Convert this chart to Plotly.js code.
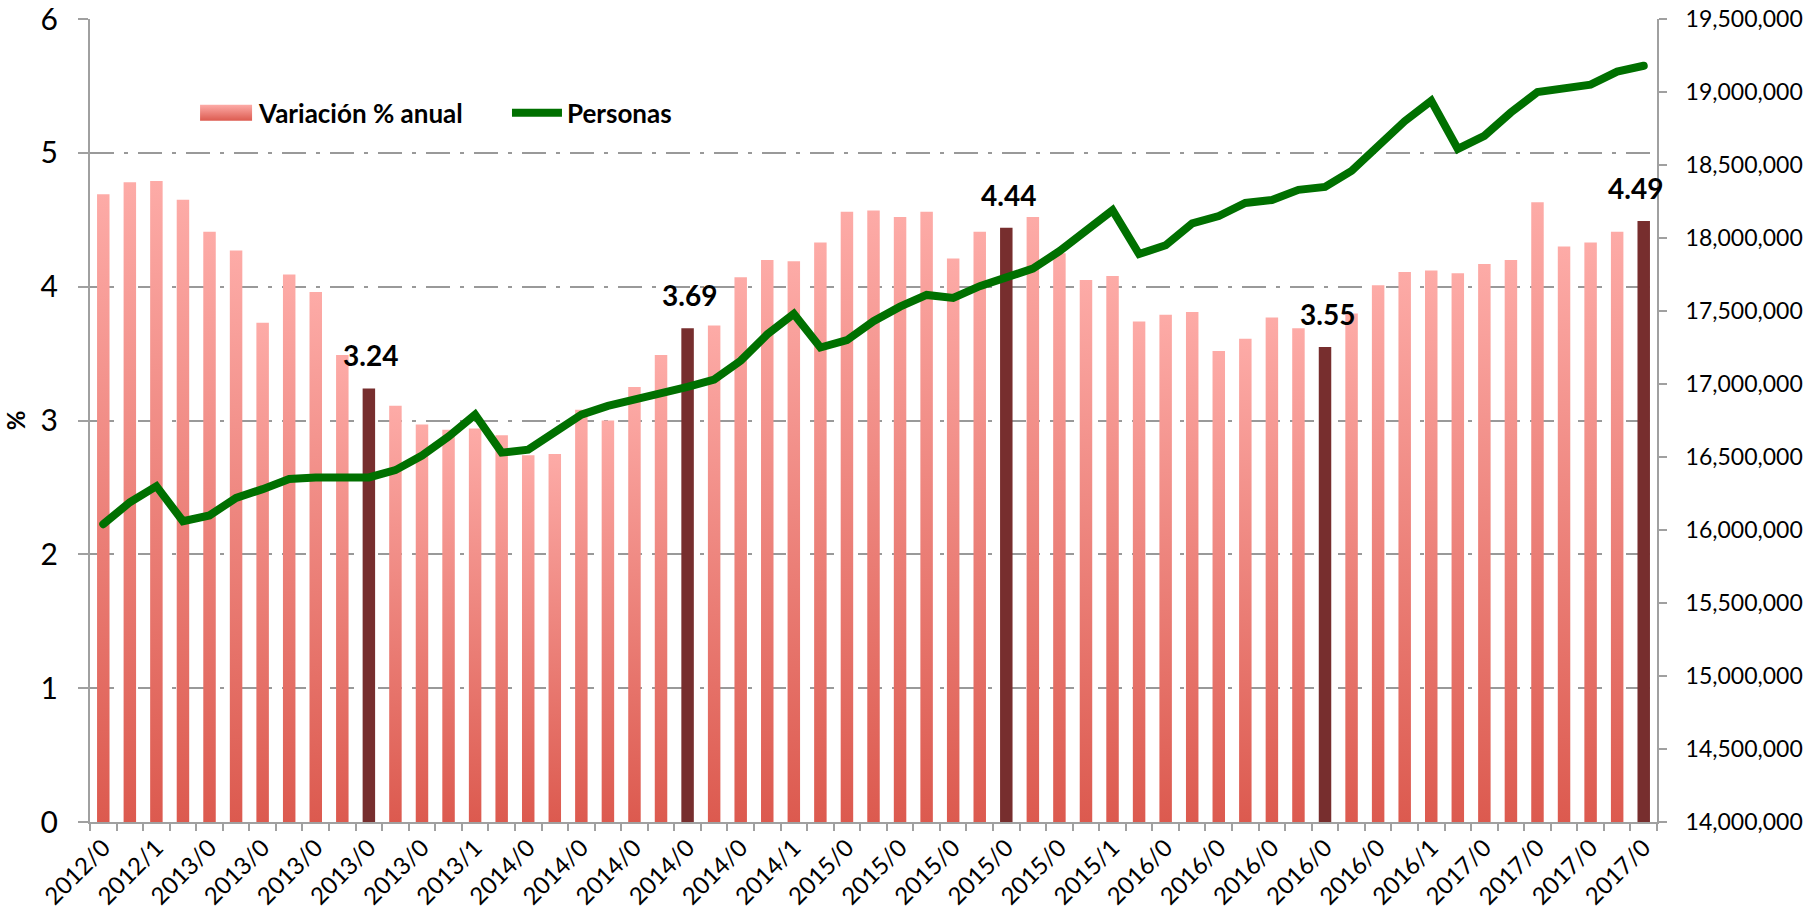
<!DOCTYPE html>
<html>
<head>
<meta charset="utf-8">
<script src="https://cdn.plot.ly/plotly-3.0.1.min.js"></script>
<style>
  body { margin: 0; background: #fff; }
  #chart { width: 1808px; height: 917px; }
</style>
</head>
<body>
<div id="chart"></div>
<script>
// meses (las etiquetas del eje aparecen recortadas a 6 caracteres)
var meses = [
  "2012/09", "2012/10", "2012/11", "2012/12",
  "2013/01", "2013/02", "2013/03", "2013/04", "2013/05", "2013/06",
  "2013/07", "2013/08", "2013/09", "2013/10", "2013/11", "2013/12",
  "2014/01", "2014/02", "2014/03", "2014/04", "2014/05", "2014/06",
  "2014/07", "2014/08", "2014/09", "2014/10", "2014/11", "2014/12",
  "2015/01", "2015/02", "2015/03", "2015/04", "2015/05", "2015/06",
  "2015/07", "2015/08", "2015/09", "2015/10", "2015/11", "2015/12",
  "2016/01", "2016/02", "2016/03", "2016/04", "2016/05", "2016/06",
  "2016/07", "2016/08", "2016/09", "2016/10", "2016/11", "2016/12",
  "2017/01", "2017/02", "2017/03", "2017/04", "2017/05", "2017/06",
  "2017/07"
];

// etiquetas visibles, una cada dos meses
var etiquetas = [
  "2012/0", "2012/1", "2013/0", "2013/0", "2013/0", "2013/0", "2013/0",
  "2013/1", "2014/0", "2014/0", "2014/0", "2014/0", "2014/0", "2014/1",
  "2015/0", "2015/0", "2015/0", "2015/0", "2015/0", "2015/1", "2016/0",
  "2016/0", "2016/0", "2016/0", "2016/0", "2016/1", "2017/0", "2017/0",
  "2017/0", "2017/0"
];

var variacion = [
  4.69, 4.78, 4.79, 4.65, 4.41, 4.27, 3.73, 4.09, 3.96, 3.49,
  3.24, 3.11, 2.97, 2.93, 2.94, 2.89, 2.74, 2.75, 3.08, 3.00,
  3.25, 3.49, 3.69, 3.71, 4.07, 4.20, 4.19, 4.33, 4.56, 4.57,
  4.52, 4.56, 4.21, 4.41, 4.44, 4.52, 4.25, 4.05, 4.08, 3.74,
  3.79, 3.81, 3.52, 3.61, 3.77, 3.69, 3.55, 3.80, 4.01, 4.11,
  4.12, 4.10, 4.17, 4.20, 4.63, 4.30, 4.33, 4.41, 4.49
];

var personas = [
  16040000, 16190000, 16300000, 16060000, 16100000, 16220000, 16280000, 16350000, 16360000, 16360000,
  16360000, 16410000, 16510000, 16640000, 16790000, 16530000, 16550000, 16670000, 16790000, 16850000,
  16890000, 16940000, 16980000, 17030000, 17160000, 17340000, 17480000, 17250000, 17300000, 17430000,
  17530000, 17610000, 17590000, 17670000, 17730000, 17790000, 17910000, 18050000, 18190000, 17890000,
  17950000, 18100000, 18150000, 18240000, 18260000, 18330000, 18350000, 18460000, 18630000, 18800000,
  18940000, 18610000, 18700000, 18860000, 19000000, 19030000, 19050000, 19140000, 19180000
];

// meses destacados (julio de cada año)
var destacados = ["2013/07", "2014/07", "2015/07", "2016/07", "2017/07"];

var colorBarra = "#ee817a";
var colorDestacado = "#772e2e";

var colores = [];
var ticktext = [];
for (var i = 0; i < meses.length; i++) {
  colores.push(destacados.indexOf(meses[i]) >= 0 ? colorDestacado : colorBarra);
  ticktext.push(i % 2 == 0 ? etiquetas[i / 2] : "");
}

var barras = {
  x: meses,
  y: variacion,
  type: "bar",
  name: "Variación % anual",
  marker: { color: colores },
  legend: "legend"
};

var linea = {
  x: meses,
  y: personas,
  type: "scatter",
  mode: "lines",
  name: "Personas",
  yaxis: "y2",
  line: { color: "#007000", width: 8 },
  legend: "legend2"
};

var anotaciones = [];
for (var j = 0; j < destacados.length; j++) {
  var k = meses.indexOf(destacados[j]);
  anotaciones.push({
    x: destacados[j],
    y: variacion[k],
    text: "<b>" + variacion[k].toFixed(2) + "</b>",
    showarrow: false,
    yanchor: "bottom",
    yshift: 14,
    xshift: j == destacados.length - 1 ? -8 : 2,
    font: { family: "Lato", size: 28, color: "#000" }
  });
}

var rejilla = "24px,10px,4px,10px";
var fuenteLeyenda = { family: "Lato", size: 26, weight: "bold", color: "#000" };

var layout = {
  width: 1808,
  height: 917,
  margin: { l: 90, r: 151, t: 19, b: 95 },
  paper_bgcolor: "#fff",
  plot_bgcolor: "#fff",
  font: { family: "Lato", color: "#000" },
  bargap: 0.53,
  showlegend: true,
  legend: {
    x: 0.0696, y: 0.883, xanchor: "left", yanchor: "middle",
    bgcolor: "rgba(0,0,0,0)", font: fuenteLeyenda, itemwidth: 50
  },
  legend2: {
    x: 0.2661, y: 0.883, xanchor: "left", yanchor: "middle",
    bgcolor: "rgba(0,0,0,0)", font: fuenteLeyenda, itemwidth: 50
  },
  xaxis: {
    type: "category",
    range: [-0.5, meses.length - 0.5],
    tickmode: "array",
    tickvals: meses,
    ticktext: ticktext,
    tickson: "boundaries",
    ticks: "outside",
    ticklen: 7,
    tickwidth: 2,
    tickcolor: "#a0a0a0",
    tickangle: -45,
    tickfont: { family: "Lato", size: 24 },
    showline: true,
    linecolor: "#a0a0a0",
    linewidth: 2,
    showgrid: false,
    zeroline: false
  },
  yaxis: {
    range: [0, 6],
    dtick: 1,
    ticks: "outside",
    ticklen: 10,
    tickwidth: 2,
    tickcolor: "#a0a0a0",
    ticklabelstandoff: 14,
    ticklabeloverflow: "allow",
    tickfont: { family: "Lato", size: 30 },
    showline: true,
    linecolor: "#a0a0a0",
    linewidth: 2,
    showgrid: true,
    gridcolor: "#999",
    gridwidth: 2,
    griddash: rejilla,
    zeroline: false,
    title: { text: "<b>%</b>", font: { family: "Lato", size: 24 }, standoff: 8 }
  },
  yaxis2: {
    overlaying: "y",
    side: "right",
    range: [14000000, 19500000],
    dtick: 500000,
    tickformat: ",d",
    ticks: "outside",
    ticklen: 8,
    tickwidth: 2,
    tickcolor: "#a0a0a0",
    ticklabelstandoff: 14,
    ticklabeloverflow: "allow",
    tickfont: { family: "Lato", size: 23 },
    showline: true,
    linecolor: "#a0a0a0",
    linewidth: 2,
    showgrid: false,
    zeroline: false
  },
  annotations: anotaciones
};

// pasa una x de pantalla al sistema local de un elemento svg
function aLocal(el, xs) {
  var m = el.getScreenCTM();
  return (xs - m.e) / m.a;
}

Plotly.newPlot("chart", [barras, linea], layout, { displayModeBar: false, staticPlot: true }).then(function (gd) {
  // degradado vertical en las barras claras, como en el original
  var svg = gd.querySelector("svg.main-svg");
  var ns = "http://www.w3.org/2000/svg";
  var defs = svg.querySelector("defs") || svg.insertBefore(document.createElementNS(ns, "defs"), svg.firstChild);
  var grad = document.createElementNS(ns, "linearGradient");
  grad.setAttribute("id", "gradBarra");
  grad.setAttribute("x1", "0"); grad.setAttribute("y1", "0");
  grad.setAttribute("x2", "0"); grad.setAttribute("y2", "1");
  [["0", "#fdaba7"], ["1", "#dc5a4f"]].forEach(function (s) {
    var st = document.createElementNS(ns, "stop");
    st.setAttribute("offset", s[0]);
    st.setAttribute("stop-color", s[1]);
    grad.appendChild(st);
  });
  defs.appendChild(grad);

  gd.querySelectorAll(".barlayer .point path").forEach(function (p, n) {
    if (colores[n] == colorBarra) p.style.fill = "url(#gradBarra)";
  });
  gd.querySelectorAll(".scatterlayer .js-line").forEach(function (p) {
    p.style.strokeLinecap = "round";
  });

  // símbolos de la leyenda más grandes, pegados al texto
  gd.querySelectorAll(".legend .traces").forEach(function (tr) {
    var txt = tr.querySelector("text.legendtext");
    if (!txt) return;
    var xt = txt.getBoundingClientRect().left;
    var barra = tr.querySelector(".legendpoints path");
    var lin = tr.querySelector(".legendlines path");
    if (lin) {
      var x1 = aLocal(lin, xt - 61), x2 = aLocal(lin, xt - 5);
      lin.setAttribute("d", "M" + x1 + ",0H" + x2);
      lin.style.strokeWidth = "8px";
      lin.style.strokeLinecap = "round";
    } else if (barra) {
      var b1 = aLocal(barra, xt - 58), b2 = aLocal(barra, xt - 6);
      barra.setAttribute("d", "M" + b1 + ",-8H" + b2 + "V8H" + b1 + "Z");
      barra.style.fill = "url(#gradBarra)";
      barra.style.stroke = "none";
    }
  });
});
</script>
</body>
</html>
